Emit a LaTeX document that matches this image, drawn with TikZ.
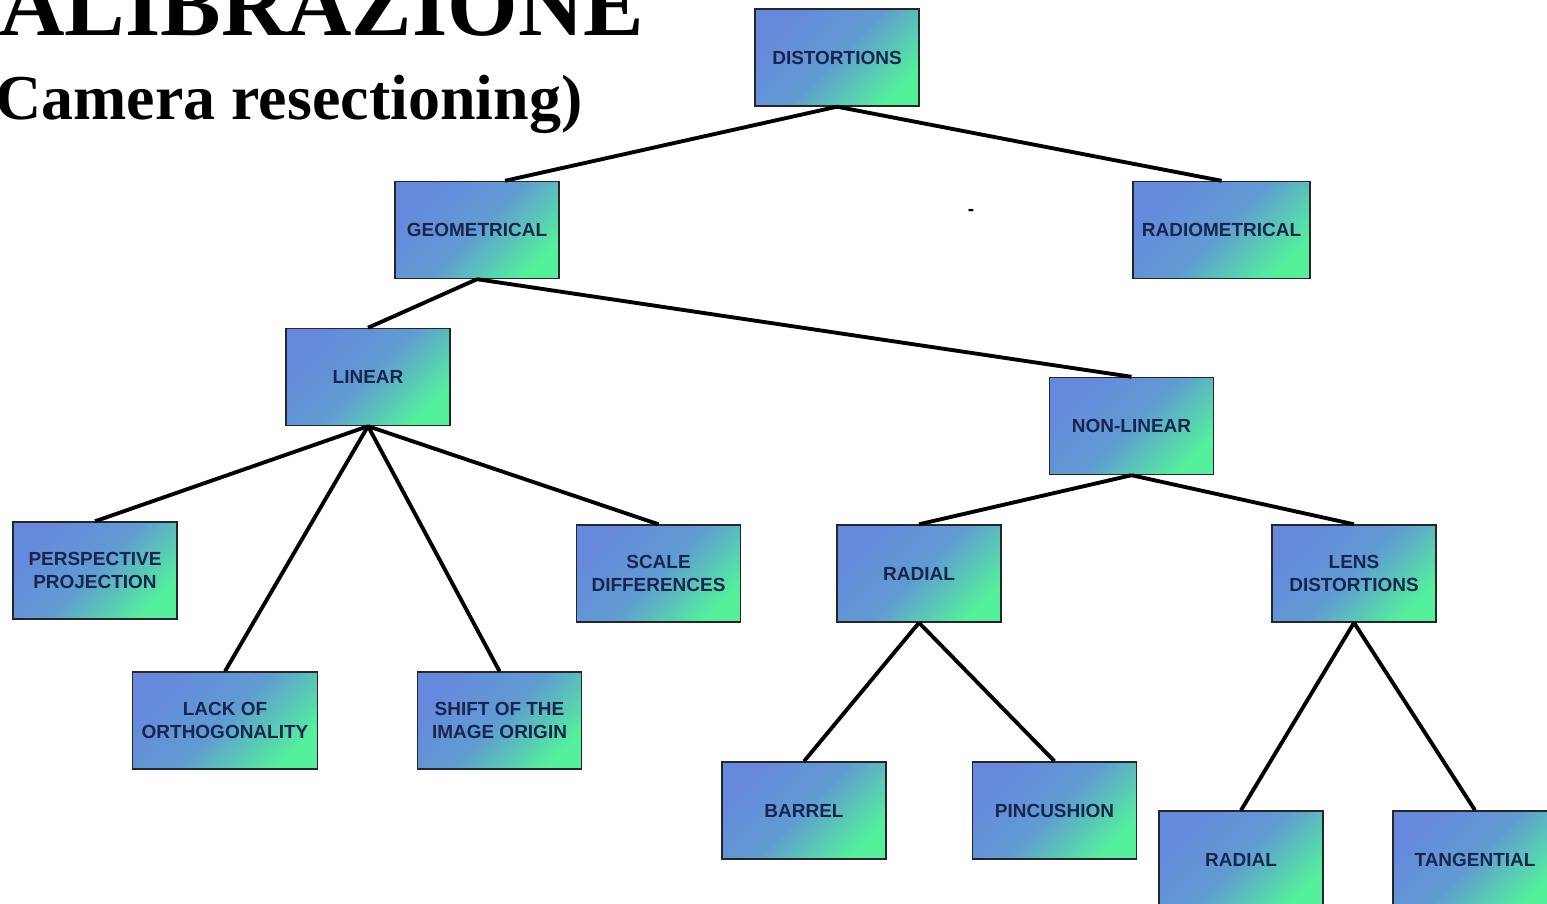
\documentclass[tikz,border=0pt]{standalone}
\usepackage{fontspec}
\setmainfont{Liberation Serif}
\setsansfont{Liberation Sans}
\usepackage{tikz}
\usetikzlibrary{shapes}
\usetikzlibrary{positioning}
\definecolor{boxblue}{RGB}{102,136,221}
\definecolor{boxmid}{RGB}{96,156,210}
\definecolor{boxgreen}{RGB}{84,240,156}
\definecolor{boxtext}{RGB}{24,38,78}
\tikzset{
  part/.style={
    draw=black!85,line width=0.4pt,
    top color=boxblue,bottom color=boxgreen,middle color=boxmid,shading angle=45,
    minimum width=1.64cm,minimum height=0.97cm,inner xsep=0.9mm,
    align=center,text=boxtext,
    font=\sffamily\bfseries\fontsize{5.4}{6.5}\selectfont,
  },
  link/.style={line width=1.1pt,black},
}

\begin{document}
\begin{tikzpicture}[node distance=1.725cm]
      \useasboundingbox (0,0) rectangle (15.47,-9.04);

      \node[anchor=base east,inner sep=0,font=\bfseries\fontsize{25.8}{30}\selectfont] (title) at (6.45,-0.36) {CALIBRAZIONE};
      \node[anchor=base east,inner sep=0,font=\bfseries\fontsize{18.2}{22}\selectfont] (subtitle) at (5.83,-1.20) {(Camera resectioning)};

      \node[part] (dist) at (8.37,-0.575) {DISTORTIONS};
      \node[part,below of=dist,xshift=-3.6cm] (geom) {GEOMETRICAL};
      \node[part,below of=dist,xshift=3.845cm] (radio) {RADIOMETRICAL};
      \node[part,below of=geom,xshift=-1.09cm,yshift=0.255cm] (linear) {LINEAR};
      \node[part,below of=geom,xshift=6.545cm,yshift=-0.235cm] (nonlin) {NON-LINEAR};
      \node[part,below of=linear,xshift=-2.73cm,yshift=-0.21cm] (persp) {PERSPECTIVE\\PROJECTION};
      \node[part,below of=linear,xshift=2.905cm,yshift=-0.24cm] (scale) {SCALE\\DIFFERENCES};
      \node[part,below of=linear,xshift=-1.43cm,yshift=-1.71cm] (lack) {LACK OF\\ORTHOGONALITY};
      \node[part,below of=linear,xshift=1.315cm,yshift=-1.71cm] (shift) {SHIFT OF THE\\IMAGE ORIGIN};
      \node[part,below of=nonlin,xshift=-2.125cm,yshift=0.25cm] (radial) {RADIAL};
      \node[part,below of=nonlin,xshift=2.225cm,yshift=0.25cm] (lens) {LENS\\DISTORTIONS};
      \node[part,below of=radial,xshift=-1.15cm,yshift=-0.645cm] (barrel) {BARREL};
      \node[part,below of=radial,xshift=1.355cm,yshift=-0.645cm] (pincush) {PINCUSHION};
      \node[part,below of=lens,xshift=-1.13cm,yshift=-1.135cm] (lensrad) {RADIAL};
      \node[part,below of=lens,xshift=1.21cm,yshift=-1.135cm] (tang) {TANGENTIAL};

      \node[font=\sffamily\bfseries\fontsize{5.4}{6.5}\selectfont] (dash) at (9.71,-2.12) {-};

      \path (dist.south) edge[link] ([xshift=2.8mm]geom.north);
      \path (dist.south) edge[link] (radio.north);
      \path (geom.south) edge[link] (linear.north);
      \path (geom.south) edge[link] (nonlin.north);
      \path (linear.south) edge[link] (persp.north);
      \path (linear.south) edge[link] (lack.north);
      \path (linear.south) edge[link] (shift.north);
      \path (linear.south) edge[link] (scale.north);
      \path (nonlin.south) edge[link] (radial.north);
      \path (nonlin.south) edge[link] (lens.north);
      \path (radial.south) edge[link] (barrel.north);
      \path (radial.south) edge[link] (pincush.north);
      \path (lens.south) edge[link] (lensrad.north);
      \path (lens.south) edge[link] (tang.north);
\end{tikzpicture}
\end{document}
